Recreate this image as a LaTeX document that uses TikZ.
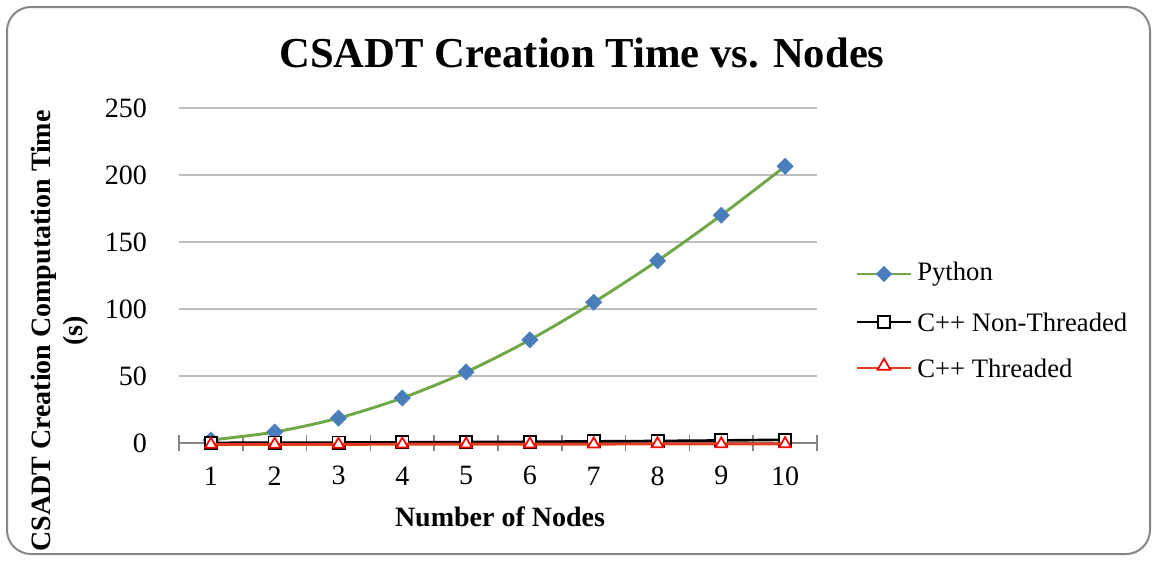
\documentclass[tikz,border=0pt]{standalone}
\usepackage{fontspec}
\setmainfont{Liberation Serif}
\usetikzlibrary{plotmarks,shapes.geometric}
\definecolor{framegray}{RGB}{134,134,134}
\definecolor{gridgray}{RGB}{190,190,190}
\definecolor{axisgray}{RGB}{134,134,134}
\definecolor{pyblue}{RGB}{74,126,187}
\definecolor{pygreen}{RGB}{112,168,71}
\definecolor{thrred}{RGB}{226,62,30}
\tikzset{
  ticklab/.style={font=\fontsize{21}{21}\selectfont, inner sep=0pt},
  axislab/.style={font=\bfseries\fontsize{21}{24}\selectfont, inner sep=0pt, align=center},
  legtext/.style={font=\fontsize{20}{20}\selectfont, inner sep=0pt, anchor=west},
  pyline/.style={pygreen, line width=2.2pt, mark=square*, mark size=4.3pt,
    mark options={fill=pyblue, draw=pyblue, line width=0.4pt, rotate=45}},
  nonthr/.style={black, line width=2pt, mark=square*, mark size=4.6pt,
    mark options={fill=white, draw=black, line width=1.3pt}},
  thrline/.style={thrred, line width=2.2pt, mark=triangle*, mark size=5pt,
    mark options={fill=white, draw=red, line width=1.3pt}},
  legpymark/.style={diamond, aspect=1, fill=pyblue, minimum size=12.5pt, inner sep=0pt},
  legnonmark/.style={draw=black, fill=white, line width=1.3pt, minimum size=9pt, inner sep=0pt},
  legthrmark/.style={regular polygon, regular polygon sides=3, draw=red, fill=white,
    line width=1.3pt, minimum size=11pt, inner sep=0pt}
}
\begin{document}
\begin{tikzpicture}[x=0.75pt, y=-0.75pt]
  \useasboundingbox (0,0) rectangle (1157,561);
  % Frame
  \draw[framegray, line width=1.5pt, rounded corners=18pt] (7,7) rectangle (1150,554);
  % Title
  \node[font=\bfseries\fontsize{32}{32}\selectfont] (title) at (582,53) {CSADT Creation Time vs. Nodes};
  % Plot area, data units
  \begin{scope}[shift={(179,443)}, x=47.85pt, y=1.005pt]
    % Gridlines and y labels
    \foreach \v in {50,100,...,250}
      \draw[gridgray, line width=1.2pt] (0,\v) -- (10,\v);
    \foreach \v in {0,50,...,250}
      \node[ticklab, anchor=east] (ylab\v) at (-0.5,\v) {\v};
    % x axis and ticks
    \draw[axisgray, line width=1.2pt] (0,0) -- (10,0);
    \foreach \i in {0,...,10}
      \draw[axisgray, line width=1.2pt] (\i,-6.3) -- (\i,6.3);
    \foreach \i in {1,...,10}
      \node[ticklab] (xlab\i) at (\i-0.5,-24.5) {\i};
    % Series
    \draw[pyline] plot[smooth, tension=0.5] coordinates {(0.5,2.2) (1.5,8.2) (2.5,18.6) (3.5,33.6) (4.5,53) (5.5,77) (6.5,105) (7.5,136) (8.5,170) (9.5,206.5)};
    \draw[nonthr] plot coordinates {(0.5,0.1) (1.5,0.2) (2.5,0.3) (3.5,0.5) (4.5,0.7) (5.5,0.9) (6.5,1.2) (7.5,1.5) (8.5,1.9) (9.5,2.4)};
    \draw[thrline] plot coordinates {(0.5,-1) (1.5,-1) (2.5,-1) (3.5,-0.9) (4.5,-0.9) (5.5,-0.8) (6.5,-0.8) (7.5,-0.7) (8.5,-0.7) (9.5,-0.6)};
  \end{scope}
  % Axis titles
  \node[axislab] (xtitle) at (500,517) {Number of Nodes};
  \node[axislab, rotate=90] (ytitle) at (60,331) {CSADT Creation Computation Time\\(s)};
  % Legend
  \coordinate (legpyA) at (857,274);
  \coordinate (legpyB) at (911,274);
  \draw[pygreen, line width=2.2pt] (legpyA) -- (legpyB);
  \node[legpymark] (legpy) at (884,274) {};
  \node[legtext] (legpytext) at (917,274) {Python};
  \coordinate (legnonA) at (857,322);
  \coordinate (legnonB) at (911,322);
  \draw[black, line width=2pt] (legnonA) -- (legnonB);
  \node[legnonmark] (legnon) at (884,322) {};
  \node[legtext] (legnontext) at (917,322) {C++ Non-Threaded};
  \coordinate (legthrA) at (857,368);
  \coordinate (legthrB) at (911,368);
  \draw[thrred, line width=2.2pt] (legthrA) -- (legthrB);
  \node[legthrmark] (legthr) at (884,366) {};
  \node[legtext] (legthrtext) at (917,368) {C++ Threaded};
\end{tikzpicture}
\end{document}
